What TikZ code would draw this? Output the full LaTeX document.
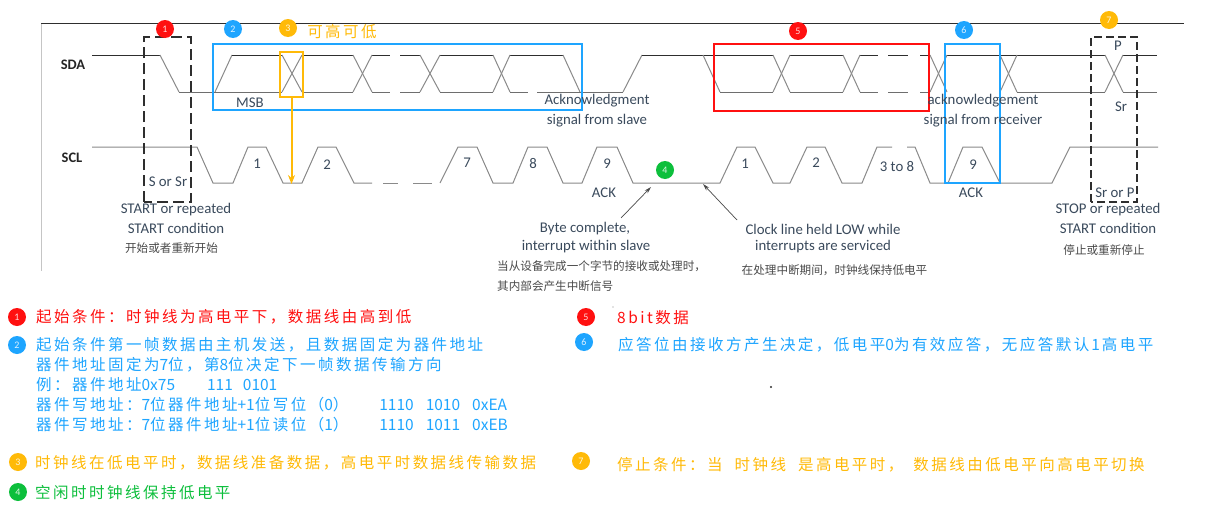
\documentclass[tikz,border=0pt]{standalone}
\usepackage{fontspec}
\setmainfont{Carlito}
\newfontfamily\cjk[LetterSpace=16]{Noto Sans CJK SC}
\newfontfamily\cjkplain{Noto Sans CJK SC}
\newcommand{\latseg}[1]{{\cjkplain\fontsize{15.5}{15.5}\selectfont #1}}
\newcommand{\cnc}{\symbol{"FF0C}}
\newcommand{\cnk}{\symbol{"FF1A}}
\newcommand{\cnl}{\symbol{"FF08}}
\newcommand{\cnr}{\symbol{"FF09}}
\usetikzlibrary{arrows.meta,positioning}
\definecolor{busred}{HTML}{FF1010}
\definecolor{busblue}{HTML}{1EA5FF}
\definecolor{busorange}{HTML}{FFBA08}
\definecolor{busgreen}{HTML}{0DBF3C}
\definecolor{wavedark}{HTML}{2E2E2E}
\definecolor{wavegray}{HTML}{8A8A8A}
\definecolor{notegray}{HTML}{4A4A4A}
\definecolor{labelink}{HTML}{3A4A5C}
\tikzset{
  numdot/.style={
    circle, fill=#1, text=white!85!#1, inner sep=0pt,
    minimum size=18pt, font=\fontsize{10}{10}\selectfont
  },
  sigtext/.style={
    font=\fontsize{14.8}{14.8}\selectfont, color=labelink, inner sep=0pt
  },
  sigbold/.style={
    font=\fontsize{14.5}{14.5}\selectfont\bfseries, color=wavedark!80!black, inner sep=0pt
  },
  notetext/.style={
    font=\cjkplain\fontsize{11.6}{11.6}\selectfont, color=notegray, inner sep=0pt
  },
  legtext/.style={
    font=\cjk\fontsize{15.5}{15.5}\selectfont, color=#1, anchor=west, inner sep=0pt
  },
  markbox/.style={
    rectangle, draw=#1, line width=1.6pt, inner sep=0pt
  },
  startbox/.style={
    draw=wavedark, line width=1.6pt, dash pattern=on 11pt off 5pt
  },
  stopbox/.style={
    draw=wavedark, line width=1.2pt, dash pattern=on 8pt off 4pt
  },
  hiline/.style={draw=wavedark, line width=0.9pt},
  loline/.style={draw=wavegray!80!black, line width=1pt},
  edgeline/.style={draw=wavegray, line width=1pt},
  clkline/.style={draw=wavegray, line width=1pt},
  notearrow/.style={-{Stealth[length=7pt,width=4pt]}, draw=notegray, line width=0.7pt},
}
\begin{document}
\begin{tikzpicture}[x=1pt,y=-1pt]
  \useasboundingbox[fill=white] (0,0) rectangle (1219,514);

  % Frame lines
  \draw[draw=wavedark, line width=0.8pt] (41,23.5) -- (1184,23.5);
  \draw[draw=wavegray!50, line width=0.7pt] (41,23.5) -- (41,271);

  % SDA
  \draw[hiline] (92,55) -- (160,55);
  \draw[edgeline] (160,55) -- (179,92);
  \draw[loline] (179,92) -- (282,92);
  \draw[edgeline] (215,92) -- (232,55);
  \draw[hiline] (232,55) -- (282,55);
  \draw[hiline] (302,55) -- (353,55);
  \draw[loline] (302,92) -- (353,92);
  \foreach \xa/\xb in {372/390,400/420}{
    \draw[hiline] (\xa,55) -- (\xb,55);
    \draw[loline] (\xa,92) -- (\xb,92);
  }
  \draw[hiline] (440,55) -- (493,55);
  \draw[loline] (440,92) -- (493,92);
  \draw[hiline] (510,55) -- (563,55);
  \draw[edgeline] (563,55) -- (580,92);
  \draw[loline] (510,92) -- (528,92);
  \draw[loline] (537,92) -- (623,92);
  \draw[edgeline] (623,92) -- (642,55);
  \draw[hiline] (642,55) -- (773,55);
  \draw[edgeline] (703,55) -- (720,92);
  \draw[loline] (720,92) -- (773,92);
  \draw[hiline] (790,55) -- (843,55);
  \draw[loline] (790,92) -- (843,92);
  \foreach \xa/\xb in {860/878,888/908,920/930}{
    \draw[hiline] (\xa,55) -- (\xb,55);
    \draw[loline] (\xa,92) -- (\xb,92);
  }
  \draw[hiline] (947,55) -- (1105,55);
  \draw[loline] (1017,92) -- (1105,92);
  \draw[hiline] (1123,55) -- (1157,55);
  \draw[loline] (1123,92) -- (1157,92);
  \foreach \xa/\xb in {282/302,353/372,420/440,493/510,773/790,843/860,930/947,1000/1017,1105/1123}{
    \draw[edgeline] (\xa,55) -- (\xb,92);
    \draw[edgeline] (\xa,92) -- (\xb,55);
  }

  % SCL
  \draw[clkline] (92,147) -- (197,147) -- (213,183) -- (233,183) -- (248,147) -- (266,147)
    -- (283,183) -- (302,183) -- (318,147) -- (336,147) -- (354,183) -- (372,183);
  \draw[clkline] (383,183) -- (398,183);
  \draw[clkline] (413,183) -- (432,183);
  \draw[clkline] (440,183) -- (458,147) -- (477,147) -- (493,183) -- (513,183) -- (528,147)
    -- (547,147) -- (563,183) -- (582,183) -- (597,147) -- (617,147) -- (633,183)
    -- (720,183) -- (737,147) -- (755,147) -- (773,183) -- (790,183) -- (807,147)
    -- (825,147) -- (842,183) -- (862,183) -- (877,147) -- (892,147);
  \draw[clkline] (907,147) -- (915,147) -- (930,183) -- (948,183) -- (963,147) -- (982,147)
    -- (1000,183) -- (1052,183) -- (1070,147) -- (1158,147);

  % Marked regions
  \draw[startbox] (144,202) -- (144,37) -- (191,37) -- (191,202) -- cycle;
  \draw[stopbox] (1091,202) -- (1091,37) -- (1137,37) -- (1137,202) -- cycle;
  \node[markbox=busblue, minimum width=369pt, minimum height=66pt] (addrbox) at (397.5,77) {};
  \node[markbox=busred, minimum width=215pt, minimum height=67pt] (bytebox) at (821.5,77.5) {};
  \node[markbox=busblue, minimum width=55pt, minimum height=139pt] (ackbox) at (972.5,113.5) {};
  \node[markbox=busorange, minimum width=23pt, minimum height=45pt] (bitbox) at (291.5,74.5) {};
  \coordinate (sclfirst) at (291.5,184);
  \draw[-{Stealth[length=9pt,width=7pt]}, draw=busorange, fill=busorange, line width=2pt] (bitbox.south) -- (sclfirst);

  % Numbered dots on the timing part
  \node[numdot=busred] (n1) at (165,29) {1};
  \node[numdot=busblue] (n2) at (233,29) {2};
  \node[numdot=busorange] (n3) at (288,28) {3};
  \node[numdot=busgreen] (n4) at (665,170) {4};
  \node[numdot=busred] (n5) at (798,31) {5};
  \node[numdot=busblue] (n6) at (964,30) {6};
  \node[numdot=busorange] (n7) at (1109,20) {7};
  \node[legtext=busorange, anchor=center] (n3note) at (342,32) {可高可低};

  % Signal labels
  \node[sigbold] (sda) at (73,65) {SDA};
  \node[sigbold] (scl) at (72,158) {SCL};
  \node[sigtext] (msb) at (250,103) {MSB};
  \node[sigtext] (sors) at (168,182) {S or Sr};
  \foreach \nm/\px/\py/\tx in {b1/257/164/1,b2/327/165/2,b7/467/163/7,b8/533/163/8,b9/607/164/9,
      c1/745/164/1,c2/816/163/2,c3/897/166/3 to 8,c9/973/165/9,ack/604/193/ACK,ackb/971/193/ACK,
      ptop/1118/46/P,srmid/1121/107/Sr,srp/1115/193/Sr or P}{
    \node[sigtext] (\nm) at (\px,\py) {\tx};
  }
  \node[sigtext] (ackslave) at (597,101) {Acknowledgment};
  \node[sigtext, below=6pt of ackslave] (ackslaveb) {signal from slave};
  \node[sigtext] (ackrecv) at (983,101) {acknowledgement};
  \node[sigtext, below=6pt of ackrecv] (ackrecvb) {signal from receiver};

  % Notes under the waves
  \node[sigtext] (startn) at (176,210) {START or repeated};
  \node[sigtext] (startm) at (176,228) {START condition};
  \node[notetext] (startz) at (171.5,248) {开始或者重新开始};
  \node[sigtext] (stopn) at (1108,210) {STOP or repeated};
  \node[sigtext] (stopm) at (1108,228) {START condition};
  \node[notetext] (stopz) at (1104,250) {停止或重新停止};
  \node[sigtext] (bytea) at (585,229) {Byte complete,};
  \node[sigtext] (byteb) at (586,247) {interrupt within slave};
  \node[notetext, anchor=west] (bytez) at (497,266) {当从设备完成一个字节的接收或处理时\cnc};
  \node[notetext, anchor=west] (bytey) at (497,286) {其内部会产生中断信号};
  \node[sigtext] (holda) at (823,229) {Clock line held LOW while};
  \node[sigtext] (holdb) at (823,247) {interrupts are serviced};
  \node[notetext] (holdz) at (834.5,270) {在处理中断期间\cnc 时钟线保持低电平};
  \coordinate (bytefoot) at (621,218);
  \coordinate (bytetip) at (651,187);
  \coordinate (holdfoot) at (737,220);
  \coordinate (holdtip) at (703,184);
  \draw[notearrow] (bytefoot) -- (bytetip);
  \draw[notearrow] (holdfoot) -- (holdtip);

  % Legend
  \foreach \n/\px/\py/\col in {1/17/317/busred,2/17/345/busblue,3/18/462/busorange,4/18/492/busgreen,
      5/586/317/busred,6/584/342/busblue,7/581/461/busorange}{
    \node[numdot=\col] (leg\n) at (\px,\py) {\n};
  }
  \node[legtext=busred] (t1) at (36,317) {起始条件\cnk 时钟线为高电平下\cnc 数据线由高到低};
  \node[legtext=busblue] (t2a) at (36,345) {起始条件第一帧数据由主机发送\cnc 且数据固定为器件地址};
  \node[legtext=busblue] (t2b) at (36,365) {器件地址固定为\latseg{7}位\cnc 第\latseg{8}位决定下一帧数据传输方向};
  \node[legtext=busblue] (t2c) at (36,385) {例\cnk 器件地址\latseg{0x75}\hspace{32pt}\latseg{111\hspace{10pt}0101}};
  \node[legtext=busblue] (t2d) at (36,405) {器件写地址\cnk\latseg{7}位器件地址\latseg{+1}位写位\cnl\latseg{0}\cnr\hspace{31pt}\latseg{1110\hspace{12pt}1010\hspace{12pt}0xEA}};
  \node[legtext=busblue] (t2e) at (36,425) {器件写地址\cnk\latseg{7}位器件地址\latseg{+1}位读位\cnl\latseg{1}\cnr\hspace{31pt}\latseg{1110\hspace{12pt}1011\hspace{12pt}0xEB}};
  \node[legtext=busorange] (t3) at (35,463) {时钟线在低电平时\cnc 数据线准备数据\cnc 高电平时数据线传输数据};
  \node[legtext=busgreen] (t4) at (35,493) {空闲时时钟线保持低电平};
  \node[legtext=busred] (t5) at (617,318) {8bit数据};
  \node[legtext=busblue] (t6) at (618,345) {应答位由接收方产生决定\cnc 低电平\latseg{0}为有效应答\cnc 无应答默认\hspace{2pt}\latseg{1}\hspace{2pt}高电平};
  \node[legtext=busorange] (t7) at (617,465) {停止条件\cnk 当\hspace{12pt}时钟线\hspace{12pt}是高电平时\cnc\hspace{10pt}数据线由低电平向高电平切换};

  % Stray dots
  \fill[wavedark] (771,387) circle (1.2pt);
  \fill[wavegray] (613,307) circle (0.6pt);
\end{tikzpicture}
\end{document}
